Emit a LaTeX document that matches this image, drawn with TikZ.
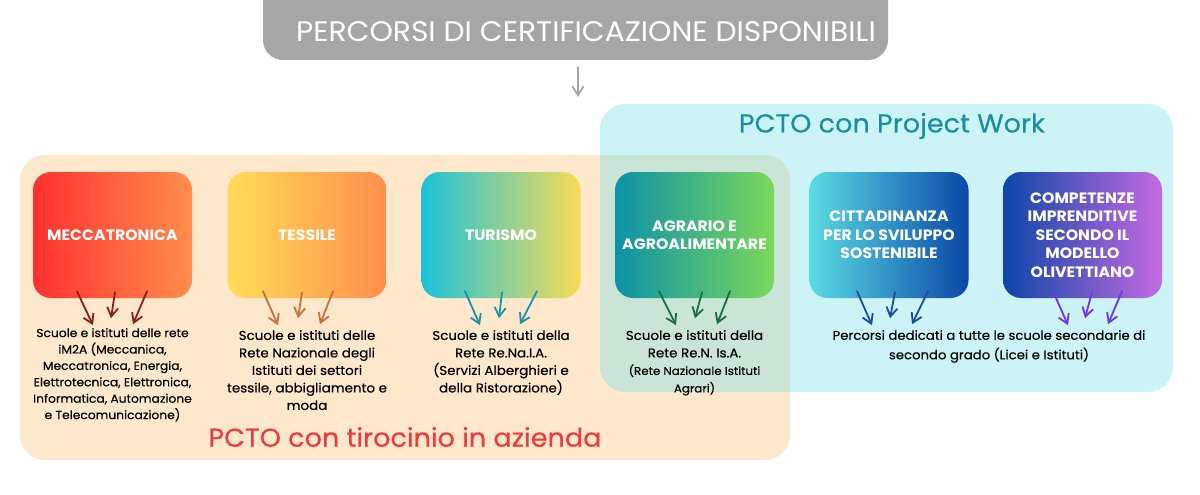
\documentclass[tikz,border=0pt]{standalone}
\usepackage{fontspec}
\setmainfont[FakeStretch=1.05]{Poppins}
\newfontfamily\medfont[FakeStretch=1.05,FakeBold=0.35]{Poppins}
\usetikzlibrary{calc,arrows.meta}
\definecolor{peach}{HTML}{FDE8CC}
\definecolor{cyanpanel}{RGB}{127,225,230}
\definecolor{titlegray}{HTML}{A6A6A6}
\definecolor{pwteal}{HTML}{1A8FA2}
\definecolor{tirored}{HTML}{F0393B}
\definecolor{ar1}{HTML}{8B1E12}
\definecolor{ar2}{HTML}{C8703A}
\definecolor{ar3}{HTML}{1A92AA}
\definecolor{ar4}{HTML}{1A6E42}
\definecolor{ar5}{HTML}{1B4CA0}
\definecolor{ar6}{HTML}{6A3AE0}
\definecolor{gRedL}{HTML}{FF3030}
\definecolor{gOrR}{HTML}{FF8E4C}
\definecolor{gYelL}{HTML}{FFDC58}
\definecolor{gCyanL}{HTML}{1CC2DA}
\definecolor{gYelR}{HTML}{F7DC55}
\definecolor{gTealL}{HTML}{0D92A8}
\definecolor{gGreenR}{HTML}{7AD85A}
\definecolor{gLcyanL}{HTML}{5ADBE2}
\definecolor{gBlueR}{HTML}{0A48A8}
\definecolor{gBlueL}{HTML}{0C46A8}
\definecolor{gVioR}{HTML}{C66AE2}
\newcommand{\myfs}[2]{\fontsize{#1}{#2}\selectfont}
\newcommand{\threearrows}[8]{%
  \draw[sk,#2] ($(#1.south)+(#3,-7)$) -- ($(#1.south)+(#4,27)$);
  \draw[sk,#2] ($(#1.south)+(#5,-6)$) -- ($(#1.south)+(#6,20)$);
  \draw[sk,#2] ($(#1.south)+(#7,-7)$) -- ($(#1.south)+(#8,26)$);}
\begin{document}
\begin{tikzpicture}[x=1pt,y=-1pt,
  panel/.style={rounded corners=25pt, minimum width=#1, inner sep=0pt},
  cat/.style={rounded corners=18pt, minimum width=159pt, minimum height=126pt,
    inner sep=0pt, align=center, text=white, font=\myfs{15}{18.5}\bfseries},
  desc/.style={anchor=north, align=center, inner sep=0pt, text=black},
  sk/.style={line width=1.8pt, line cap=round, -{Straight Barb[length=9pt,width=11pt,line width=1.8pt]}},
  bigtitle/.style={inner sep=0pt}]
\useasboundingbox (0,0) rectangle (1200,495);
\clip (0,0) rectangle (1200,495);
% title
\fill[titlegray, rounded corners=20pt] (263,-40) rectangle (888,60);
\node[bigtitle, text=white, font=\myfs{28.3}{32}] (title) at (586,32) {PERCORSI DI CERTIFICAZIONE DISPONIBILI};
\coordinate (tA) at (578,67);
\coordinate (tB) at (578,97);
\draw[sk, titlegray] (tA) -- (tB);
% panels
\node[panel=770pt, minimum height=305pt, fill=peach] (orange) at (405,307.5) {};
\node[panel=573pt, minimum height=288pt, fill=cyanpanel, fill opacity=0.4] (cyanp) at (886.5,248) {};
\node[bigtitle, text=pwteal, font=\medfont\myfs{25.8}{30}] (pw) at (892,126) {PCTO con Project Work};
\node[bigtitle, text=tirored, font=\medfont\myfs{25.8}{30}] (tiro) at (405,437) {PCTO con tirocinio in azienda};
% category boxes
\node[cat, left color=gRedL, right color=gOrR] (b1) at (112.5,235) {MECCATRONICA};
\node[cat, left color=gYelL, right color=gOrR] (b2) at (307,235) {TESSILE};
\node[cat, left color=gCyanL, right color=gYelR] (b3) at (501,235) {TURISMO};
\node[cat, left color=gTealL, right color=gGreenR] (b4) at (694.5,235) {AGRARIO E\\AGROALIMENTARE};
\node[cat, left color=gLcyanL, right color=gBlueR] (b5) at (889,235) {CITTADINANZA\\PER LO SVILUPPO\\SOSTENIBILE};
\node[cat, left color=gBlueL, right color=gVioR] (b6) at (1082.5,235) {COMPETENZE\\IMPRENDITIVE\\SECONDO IL\\MODELLO\\OLIVETTIANO};
% descriptions
\node[desc, font=\medfont\myfs{11.7}{16.4}] (d1) at (112.5,328) {Scuole e istituti delle rete\\iM2A (Meccanica,\\Meccatronica, Energia,\\Elettrotecnica, Elettronica,\\Informatica, Automazione\\e Telecomunicazione)};
\node[desc, font=\medfont\myfs{12.8}{17.5}] (d2) at (307,330) {Scuole e istituti delle\\Rete Nazionale degli\\Istituti dei settori\\tessile, abbigliamento e\\moda};
\node[desc, font=\medfont\myfs{12.8}{17.5}] (d3) at (501,330) {Scuole e istituti della\\Rete Re.Na.I.A.\\(Servizi Alberghieri e\\della Ristorazione)};
\node[desc, font=\medfont\myfs{12.8}{17.5}] (d4) at (694.5,330) {Scuole e istituti della\\Rete Re.N. Is.A.\\{\myfs{11.3}{15}(Rete Nazionale Istituti}\\{\myfs{11.3}{15}Agrari)}};
\node[desc, font=\medfont\myfs{12.6}{19.5}] (d5) at (989,330) {Percorsi dedicati a tutte le scuole secondarie di\\secondo grado (Licei e Istituti)};
% arrows
\threearrows{b1}{ar1}{-35.5}{-19.5}{2.5}{-1.5}{34.5}{20.5}
\threearrows{b2}{ar2}{-44}{-29}{-5}{-9}{26}{13}
\threearrows{b3}{ar3}{-36}{-21}{1}{-2}{36}{19}
\threearrows{b4}{ar4}{-35.5}{-18.5}{7.5}{0.5}{35.5}{22.5}
\threearrows{b5}{ar5}{-32}{-17}{6}{1}{39}{23}
\threearrows{b6}{ar6}{-29.5}{-14.5}{9.5}{2.5}{39.5}{25.5}
\end{tikzpicture}
\end{document}
